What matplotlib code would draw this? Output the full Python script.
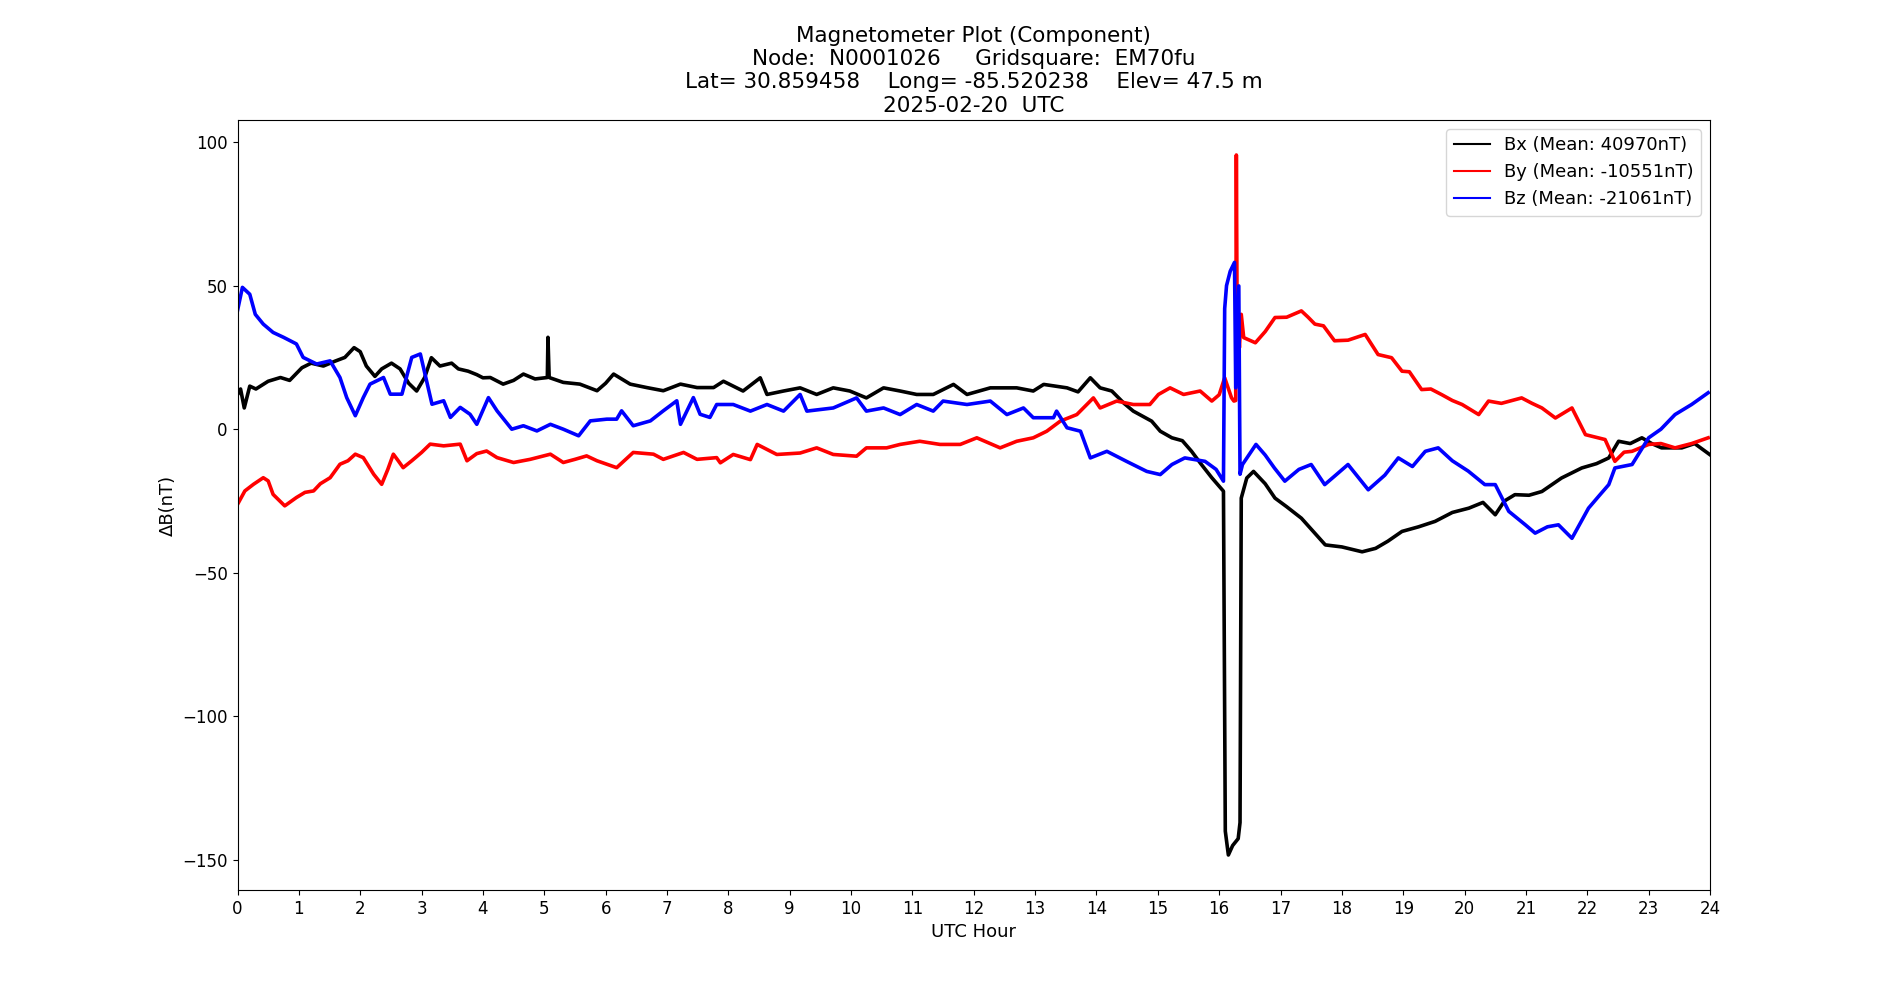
import matplotlib.pyplot as plt

# hours (UTC) and delta-B values
bx_hours = [0.0, 0.05, 0.11, 0.2, 0.3, 0.5, 0.7, 0.85, 1.05, 1.2, 1.4, 1.59, 1.75, 1.9, 2.0, 2.1,
            2.24, 2.35, 2.51, 2.65, 2.79, 2.92, 3.05, 3.16, 3.3, 3.49, 3.6, 3.76, 3.9, 4.0, 4.12,
            4.33, 4.5, 4.66, 4.85, 5.05, 5.06, 5.08, 5.31, 5.58, 5.86, 6.0, 6.13, 6.4, 6.67, 6.94,
            7.22, 7.49, 7.76, 7.92, 8.24, 8.52, 8.63, 8.9, 9.17, 9.44, 9.71, 9.98, 10.25, 10.53,
            10.8, 11.07, 11.34, 11.67, 11.89, 12.27, 12.7, 12.97, 13.14, 13.52, 13.7, 13.9, 14.06,
            14.25, 14.45, 14.6, 14.9, 15.04, 15.23, 15.4, 15.55, 15.7, 15.88, 16.07, 16.1, 16.15,
            16.22, 16.31, 16.34, 16.36, 16.45, 16.56, 16.75, 16.91, 17.1, 17.34, 17.55, 17.73,
            18.0, 18.33, 18.55, 18.75, 18.98, 19.25, 19.52, 19.8, 20.07, 20.3, 20.5, 20.65, 20.82,
            21.05, 21.26, 21.58, 21.91, 22.15, 22.35, 22.51, 22.7, 22.89, 23.05, 23.21, 23.54,
            23.75, 24.0]
bx_vals = [12, 14, 7.4, 15, 14, 16.7, 18, 17, 21.4, 23, 22, 23.7, 25, 28.4, 27, 22,
           18.4, 21, 23, 21, 16, 13.3, 18, 24.9, 22, 23, 21, 20.2, 19, 17.9, 18,
           15.7, 17, 19.2, 17.5, 18, 32, 18, 16.3, 15.7, 13.4, 16, 19.2, 15.7, 14.5, 13.4,
           15.7, 14.5, 14.5, 16.7, 13.3, 17.9, 12.1, 13.3, 14.4, 12.1, 14.4, 13.3, 10.9, 14.4,
           13.3, 12.1, 12.1, 15.6, 12.1, 14.4, 14.4, 13.3, 15.6, 14.4, 13, 17.9, 14.4,
           13.3, 9, 6.3, 2.8, -0.7, -3, -4, -7.7, -12, -16.9, -21.6, -140, -148.3,
           -145, -142.6, -137, -24, -17, -14.7, -19, -24, -27, -31, -36, -40.3,
           -41, -42.7, -41.5, -39, -35.6, -34, -32.1, -29, -27.5, -25.5, -29.8, -25, -22.8,
           -23, -21.7, -17, -13.5, -12, -10, -4.2, -5, -3.0, -5, -6.5, -6.5,
           -5, -8.9]

by_hours = [0.0, 0.12, 0.26, 0.42, 0.5, 0.58, 0.77, 0.96, 1.1, 1.24, 1.35, 1.51, 1.67, 1.8, 1.92,
            2.05, 2.22, 2.35, 2.45, 2.54, 2.62, 2.7, 2.84, 3.0, 3.14, 3.36, 3.63, 3.74, 3.9, 4.06,
            4.23, 4.5, 4.77, 5.1, 5.31, 5.5, 5.69, 5.86, 6.18, 6.45, 6.78, 6.94, 7.27, 7.49, 7.81,
            7.87, 8.08, 8.36, 8.47, 8.79, 9.17, 9.44, 9.71, 10.09, 10.25, 10.58, 10.8, 11.12, 11.45,
            11.78, 12.05, 12.43, 12.7, 12.97, 13.19, 13.41, 13.68, 13.95, 14.06, 14.33, 14.6, 14.87,
            15.01, 15.2, 15.42, 15.69, 15.88, 16.0, 16.09, 16.2, 16.24, 16.27, 16.28, 16.29, 16.31,
            16.33, 16.36, 16.4, 16.59, 16.75, 16.91, 17.1, 17.34, 17.45, 17.56, 17.7, 17.88, 18.1,
            18.38, 18.59, 18.81, 18.98, 19.1, 19.3, 19.45, 19.63, 19.8, 19.96, 20.23, 20.39, 20.6,
            20.93, 21.1, 21.26, 21.48, 21.75, 21.97, 22.29, 22.45, 22.6, 22.73, 23.0, 23.2, 23.43,
            23.7, 23.97]
by_vals = [-26.2, -21.5, -19.2, -16.9, -18, -22.7, -26.7, -23.8, -22, -21.5, -19, -16.9, -12.2, -11, -8.7,
           -9.9, -15.7, -19.2, -14, -8.7, -11, -13.4, -11, -8.1, -5.2, -5.8, -5.2, -11, -8.5, -7.6,
           -9.9, -11.6, -10.5, -8.7, -11.6, -10.5, -9.3, -11, -13.4, -8.1, -8.7, -10.5, -8.1, -10.5, -9.9,
           -11.7, -8.8, -10.6, -5.3, -8.8, -8.3, -6.5, -8.8, -9.4, -6.5, -6.5, -5.3, -4.2, -5.3,
           -5.3, -3, -6.5, -4.2, -3, -0.7, 2.8, 5.1, 10.9, 7.4, 9.8, 8.6, 8.6,
           12.1, 14.4, 12.1, 13.3, 9.8, 12, 17.9, 11, 9.8, 10, 95.5, 50.6, 36,
           28.4, 40, 31.9, 30.1, 34, 38.9, 39, 41.2, 39, 36.6, 36, 30.8, 31,
           33, 26, 24.9, 20.2, 20, 13.8, 14, 12, 10, 8.6, 5.1, 9.8, 9,
           10.9, 9, 7.4, 3.9, 7.4, -1.9, -3.6, -11.2, -8, -7.7, -5.3, -5, -6.5,
           -5, -3]

bz_hours = [0.0, 0.08, 0.2, 0.29, 0.42, 0.58, 0.75, 0.96, 1.07, 1.29, 1.51, 1.67, 1.78, 1.92, 2.05,
            2.16, 2.38, 2.49, 2.68, 2.84, 2.98, 3.17, 3.36, 3.47, 3.63, 3.79, 3.9, 4.09, 4.23, 4.47,
            4.66, 4.88, 5.1, 5.31, 5.56, 5.75, 6.02, 6.18, 6.26, 6.45, 6.73, 6.94, 7.16, 7.22, 7.43,
            7.54, 7.7, 7.81, 8.08, 8.36, 8.63, 8.9, 9.17, 9.28, 9.71, 10.09, 10.25, 10.53, 10.8,
            11.07, 11.34, 11.5, 11.89, 12.27, 12.54, 12.81, 12.97, 13.3, 13.35, 13.52, 13.74, 13.9,
            14.17, 14.49, 14.82, 15.04, 15.23, 15.44, 15.77, 15.95, 16.07, 16.09, 16.12, 16.18,
            16.25, 16.27, 16.32, 16.34, 16.38, 16.6, 16.75, 16.9, 17.07, 17.3, 17.5, 17.72, 17.9,
            18.1, 18.43, 18.7, 18.92, 19.15, 19.36, 19.57, 19.8, 20.06, 20.33, 20.5, 20.72, 20.99,
            21.15, 21.35, 21.53, 21.75, 22.02, 22.2, 22.35, 22.45, 22.73, 23.0, 23.2, 23.43, 23.7,
            23.97]
bz_vals = [41.3, 49.4, 47, 40, 36.6, 33.7, 32, 29.7, 25, 22.7, 23.8, 18, 11, 4.7, 11,
           15.7, 18, 12.2, 12.2, 25, 26.2, 8.7, 9.9, 4.1, 7.6, 5.2, 1.7, 11, 6.4, 0,
           1.2, -0.6, 1.7, 0, -2.3, 2.9, 3.5, 3.5, 6.4, 1.2, 2.9, 6.4, 9.9, 1.7, 11,
           5.2, 4.1, 8.6, 8.6, 6.3, 8.6, 6.3, 12.1, 6.3, 7.4, 10.9, 6.3, 7.4, 5.1,
           8.6, 6.3, 9.8, 8.6, 9.8, 5.1, 7.4, 4, 4, 6.3, 0.5, -0.7, -10,
           -7.7, -11.2, -14.7, -15.8, -12.3, -10, -11.2, -14, -18.1, 42, 50, 55,
           58.1, 14.4, 49.9, -15.7, -12.3, -5.3, -9, -13.5, -18.1, -14, -12.3, -19.3, -16,
           -12.3, -21.1, -16, -10, -13, -7.7, -6.5, -11, -14.6, -19.3, -19.3, -28.6, -33.3,
           -36.2, -34, -33.3, -38, -27.5, -23, -19.3, -13.5, -12.3, -3, 0, 5.1, 8.6,
           12.7]

means = {'Bx': 40970, 'By': -10551, 'Bz': -21061}

fig, ax = plt.subplots(figsize=(19, 10), dpi=100)

ax.plot(bx_hours, bx_vals, color='black', lw=2.6, label=f"Bx (Mean: {means['Bx']}nT)")
ax.plot(by_hours, by_vals, color='red', lw=2.6, label=f"By (Mean: {means['By']}nT)")
ax.plot(bz_hours, bz_vals, color='blue', lw=2.6, label=f"Bz (Mean: {means['Bz']}nT)")

ax.set_xlim(0, 24)
ax.set_xticks(range(25))
ax.tick_params(labelsize=12)
ax.set_xlabel('UTC Hour', fontsize=13)
ax.set_ylabel('ΔB(nT)', fontsize=13)
ax.set_title('Magnetometer Plot (Component)\n'
             'Node:  N0001026     Gridsquare:  EM70fu\n'
             'Lat= 30.859458    Long= -85.520238    Elev= 47.5 m\n'
             '2025-02-20  UTC', fontsize=15.5)

leg = ax.legend(loc='upper right', fontsize=13)
for line in leg.get_lines():
    line.set_linewidth(1.5)

plt.savefig('out.png')
